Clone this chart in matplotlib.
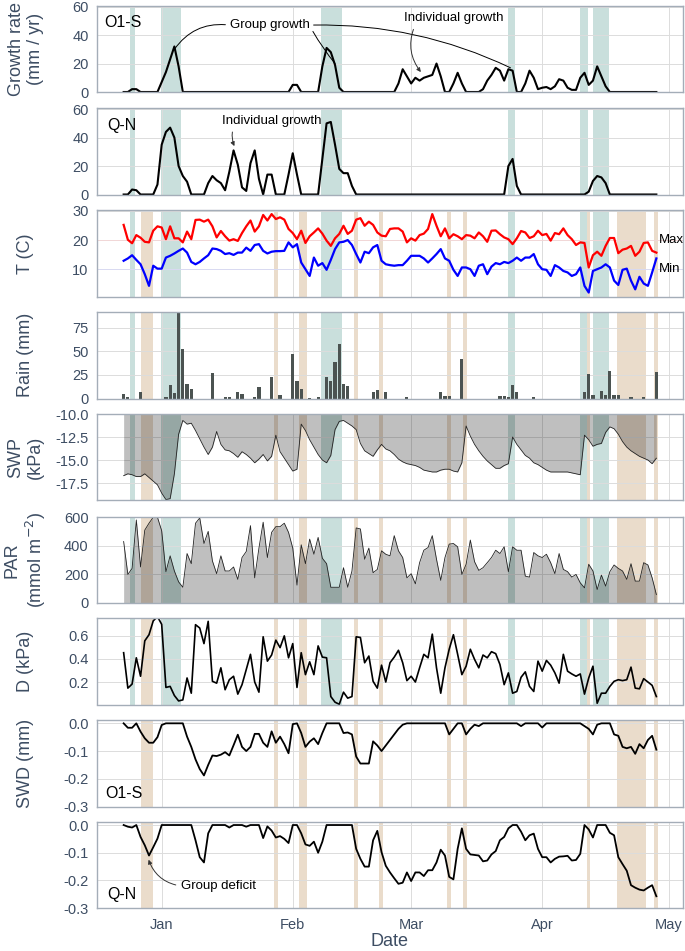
import matplotlib.pyplot as plt
import matplotlib.dates as mdates
import matplotlib.ticker as mticker
import pandas as pd

plt.rcParams['font.family'] = ['Liberation Sans', 'DejaVu Sans']
plt.rcParams['axes.unicode_minus'] = False

# daily records, 23 Dec 2016 - 28 Apr 2017
dates = pd.date_range('2016-12-23', '2017-04-28', freq='D')

growth_o1s = [0, 0, 2, 2, 0, 0, 0, 0, 0, 7,
              14, 23, 32, 18, 0, 0, 0, 0, 0, 0,
              0, 0, 0, 0, 0, 0, 0, 0, 0, 0,
              0, 0, 0, 0, 0, 0, 0, 0, 0, 0,
              5, 5, 0, 0, 0, 0, 0, 18, 31, 28,
              19, 3, 0, 0, 0, 0, 0, 0, 0, 0,
              0, 0, 0, 0, 0, 6, 16, 11, 6, 10,
              8, 10, 11, 12, 20, 11, 0, 0, 6, 13.5,
              6, 0, 0, 0, 0, 2, 8, 12, 17, 15,
              8, 16, 15, 0, 0, 6, 15, 10, 2, 3,
              3.5, 2, 4, 9, 8, 3, 1.5, 1.5, 10, 13.5,
              5, 8, 18, 11, 4, 0, 0, 0, 0, 0,
              0, 0, 0, 0, 0, 0, 0]

growth_qn = [0, 0, 3.5, 3, 0, 0, 0, 0, 7, 35,
             44, 47, 40, 20, 13, 9, 0, 0, 0, 0,
             8, 13, 10, 8, 3, 16, 31, 21, 5, 2.5,
             22, 31, 11, 0, 14, 14, 0, 0, 0, 14,
             29, 14, 0, 0, 0, 0, 0, 25, 50, 51,
             35, 18, 15, 15, 6, 0, 0, 0, 0, 0,
             0, 0, 0, 0, 0, 0, 0, 0, 0, 0,
             0, 0, 0, 0, 0, 0, 0, 0, 0, 0,
             0, 0, 0, 0, 0, 0, 0, 0, 0, 0,
             0, 20, 25, 6, 0, 0, 0, 0, 0, 0,
             0, 0, 0, 0, 0, 0, 0, 0, 0, 0,
             2, 9.5, 13, 12, 8, 0, 0, 0, 0, 0,
             0, 0, 0, 0, 0, 0, 0]

t_max = [25.2, 20.1, 18.9, 21.7, 20.8, 19.4, 19.2, 23.2, 24.7, 24.3,
         20.3, 24.7, 20.6, 20.6, 19.2, 22.9, 20.3, 26.9, 27.0, 26.3,
         27.0, 24.7, 20.9, 23.1, 21.3, 19.8, 20.3, 19.7, 22.4, 24.7,
         26.7, 22.9, 24.7, 28.6, 26.7, 28.9, 27.2, 27.8, 27.0, 23.8,
         22.4, 20.3, 23.2, 19.0, 21.3, 22.6, 24.0, 22.2, 19.8, 18.0,
         20.6, 22.1, 24.9, 22.1, 23.2, 27.0, 27.5, 24.9, 26.3, 25.2,
         22.6, 21.5, 21.3, 23.8, 24.0, 24.0, 22.9, 19.2, 20.6, 19.8,
         21.7, 22.2, 23.8, 28.9, 24.9, 21.3, 24.0, 20.6, 22.0, 21.3,
         20.3, 21.7, 21.5, 20.6, 22.6, 21.3, 19.4, 23.2, 23.3, 22.0,
         20.9, 20.3, 18.6, 20.6, 23.1, 22.6, 20.7, 21.3, 23.2, 21.7,
         22.1, 19.8, 22.4, 22.0, 24.0, 21.7, 20.3, 18.3, 19.2, 19.0,
         10.6, 14.8, 16.0, 14.6, 18.0, 20.7, 20.7, 15.5, 16.7, 17.1,
         18.0, 14.6, 16.0, 19.0, 19.2, 16.3, 15.7]

t_min = [12.9, 13.7, 14.8, 13.2, 11.7, 8.3, 4.3, 11.2, 10.2, 10.2,
         14.0, 14.6, 15.4, 16.3, 17.1, 15.7, 12.5, 11.7, 12.5, 13.7,
         14.8, 17.1, 16.9, 16.3, 15.2, 15.5, 14.9, 15.7, 15.7, 17.4,
         16.3, 18.3, 18.6, 16.3, 15.4, 16.0, 16.2, 16.2, 16.3, 19.2,
         17.5, 18.6, 12.3, 10.0, 7.7, 14.0, 11.2, 12.1, 9.8, 13.2,
         16.9, 19.2, 19.4, 20.0, 18.3, 15.2, 12.3, 16.0, 15.5, 17.5,
         18.3, 12.9, 11.7, 11.4, 11.2, 11.4, 11.4, 12.9, 14.6, 14.6,
         14.6, 13.7, 12.3, 13.7, 15.2, 16.9, 13.7, 12.9, 9.8, 7.7,
         10.6, 10.6, 10.0, 7.7, 11.2, 11.7, 8.3, 10.9, 12.1, 11.7,
         12.5, 12.1, 12.9, 14.0, 12.9, 14.0, 14.0, 15.2, 11.7, 10.0,
         9.8, 7.7, 11.4, 10.6, 9.4, 8.9, 7.7, 8.3, 10.6, 4.3,
         2.0, 9.4, 10.0, 10.6, 11.7, 10.6, 6.1, 4.6, 9.8, 10.2,
         6.1, 3.1, 7.4, 5.1, 4.3, 8.9, 13.7]

rain = [5, 2, 0, 0, 7, 0, 0, 0, 0, 0,
        2, 14, 6, 95, 53, 15, 9.6, 0, 0, 0,
        0, 27, 0, 0, 2, 2, 0, 7, 5, 0,
        0, 2, 12, 0, 0, 23, 0, 4, 0, 0,
        47, 18.5, 10, 0, 1, 0, 1.5, 0, 23, 18.5,
        39, 58, 15, 13, 0, 0, 0, 0, 0, 6.5,
        9, 0, 7, 0, 0, 0, 0, 2, 0, 0,
        0, 0, 0, 0, 0, 6.5, 2.5, 2.5, 0, 0,
        42, 0, 0, 0, 0, 0, 0, 0, 0, 3,
        3, 2, 14, 6.4, 0, 0, 0, 2, 0, 0,
        0, 0, 0, 0, 0, 0, 0, 0, 0, 7,
        25.7, 4, 0, 8, 3.5, 29, 4, 4, 0, 0,
        2, 0, 0, 2, 0, 0, 28.6]

swp = [-16.7, -16.5, -16.6, -16.8, -16.8, -16.5, -16.9, -17.3, -17.7, -18.6,
       -19.3, -19.2, -16.5, -12.2, -10.7, -11.1, -11.0, -11.8, -12.7, -13.6,
       -14.4, -13.6, -11.9, -13.3, -13.9, -14.0, -14.3, -14.7, -14.1, -14.4,
       -14.8, -15.3, -14.9, -14.4, -15.1, -14.6, -12.3, -14.1, -14.8, -15.5,
       -16.2, -16.0, -11.1, -11.8, -12.8, -13.6, -14.4, -15.0, -15.3, -14.5,
       -11.7, -10.8, -10.7, -11.0, -11.3, -11.7, -13.2, -14.0, -14.3, -14.6,
       -13.9, -13.3, -13.8, -14.0, -14.4, -14.9, -15.2, -15.4, -15.5, -15.6,
       -15.8, -16.1, -16.2, -16.3, -16.3, -16.1, -16.0, -16.0, -16.2, -16.3,
       -15.3, -11.3, -12.4, -13.3, -14.0, -14.6, -15.1, -15.5, -15.9, -15.9,
       -15.6, -15.4, -12.5, -13.3, -13.9, -14.5, -14.8, -15.3, -15.5, -15.8,
       -16.1, -16.3, -16.3, -16.3, -16.3, -16.3, -16.4, -16.5, -16.6, -12.3,
       -12.8, -13.5, -13.3, -13.2, -12.0, -11.4, -11.6, -12.2, -13.0, -13.6,
       -14.0, -14.3, -14.6, -14.8, -15.0, -15.4, -14.8]

par = [430, 200, 242, 581, 252, 510, 558, 600, 600, 505,
       219, 330, 224, 148, 110, 346, 275, 558, 595, 416,
       501, 294, 205, 330, 224, 224, 252, 165, 318, 360,
       541, 176, 384, 565, 318, 494, 534, 534, 558, 494,
       384, 125, 407, 275, 447, 341, 459, 313, 275, 110,
       110, 110, 247, 110, 224, 525, 518, 306, 384, 212,
       235, 365, 341, 330, 471, 365, 318, 176, 205, 134,
       282, 369, 388, 471, 306, 158, 318, 412, 416, 393,
       200, 271, 440, 289, 228, 247, 282, 318, 369, 346,
       393, 219, 393, 369, 369, 188, 181, 353, 330, 318,
       341, 282, 205, 346, 235, 219, 181, 200, 141, 106,
       271, 224, 94, 195, 118, 219, 266, 242, 224, 165,
       275, 153, 153, 282, 266, 176, 59]

vpd = [0.454, 0.147, 0.182, 0.41, 0.25, 0.557, 0.61, 0.73, 0.767, 0.70,
       0.153, 0.162, 0.083, 0.036, 0.045, 0.235, 0.103, 0.697, 0.668, 0.533,
       0.726, 0.206, 0.19, 0.323, 0.133, 0.22, 0.25, 0.095, 0.177, 0.308,
       0.44, 0.2, 0.112, 0.592, 0.381, 0.434, 0.563, 0.498, 0.6, 0.41,
       0.533, 0.153, 0.454, 0.264, 0.375, 0.264, 0.513, 0.416, 0.41, 0.074,
       0.025, 0.007, 0.112, 0.06, 0.074, 0.592, 0.586, 0.367, 0.425, 0.206,
       0.147, 0.346, 0.2, 0.367, 0.416, 0.475, 0.367, 0.212, 0.25, 0.2,
       0.323, 0.44, 0.41, 0.615, 0.323, 0.103, 0.323, 0.484, 0.61, 0.44,
       0.264, 0.337, 0.484, 0.396, 0.323, 0.434, 0.41, 0.463, 0.446, 0.352,
       0.177, 0.279, 0.103, 0.118, 0.241, 0.288, 0.162, 0.118, 0.381, 0.294,
       0.387, 0.346, 0.279, 0.19, 0.44, 0.294, 0.27, 0.25, 0.27, 0.095,
       0.235, 0.337, 0.016, 0.103, 0.103, 0.162, 0.206, 0.22, 0.212, 0.22,
       0.329, 0.147, 0.141, 0.229, 0.2, 0.171, 0.074]

swd_o1s = [0, -0.016, -0.016, 0, -0.03, -0.054, -0.07, -0.07, -0.05, -0.006,
           0, 0, 0, 0, 0, -0.048, -0.085, -0.13, -0.165, -0.188,
           -0.15, -0.116, -0.118, -0.113, -0.104, -0.116, -0.079, -0.041, -0.085, -0.1,
           -0.085, -0.038, -0.038, -0.07, -0.085, -0.029, -0.07, -0.048, -0.075, -0.108,
           -0.003, 0, -0.035, -0.085, -0.066, -0.054, -0.075, -0.035, 0, 0,
           0, 0, -0.035, -0.033, -0.04, -0.12, -0.145, -0.145, -0.145, -0.065,
           -0.08, -0.1, -0.08, -0.06, -0.04, -0.02, -0.005, 0, 0, 0,
           0, 0, 0, 0, 0, 0, 0, -0.04, -0.02, 0,
           0, -0.04, -0.02, -0.005, -0.01, 0, 0, 0, 0, 0,
           0, 0, 0, 0, -0.01, 0, 0, 0, 0, -0.015,
           0, 0, 0, 0, 0, 0, 0, 0, 0, -0.01,
           -0.02, -0.04, -0.005, 0, 0, 0, -0.04, -0.045, -0.085, -0.09,
           -0.085, -0.11, -0.075, -0.09, -0.06, -0.045, -0.095]

swd_qn = [0, -0.006, -0.009, 0, -0.043, -0.073, -0.11, -0.08, -0.049, 0,
          0, 0, 0, 0, 0, 0, 0, -0.055, -0.116, -0.135,
          -0.03, 0, 0, 0, 0, -0.009, 0, 0, 0, -0.006,
          0, 0, 0, -0.047, -0.005, -0.02, -0.045, -0.04, -0.05, -0.065,
          0, 0, -0.03, -0.07, -0.075, -0.06, -0.1, -0.06, 0, 0,
          0, 0, 0, 0, 0, -0.086, -0.122, -0.15, -0.15, -0.055,
          -0.021, -0.098, -0.147, -0.171, -0.192, -0.212, -0.208, -0.171, -0.202, -0.171,
          -0.171, -0.184, -0.163, -0.163, -0.135, -0.089, -0.11, -0.187, -0.196, -0.086,
          -0.012, -0.086, -0.106, -0.108, -0.11, -0.131, -0.128, -0.106, -0.094, -0.055,
          -0.043, -0.012, 0, 0, -0.024, -0.055, -0.037, -0.031, -0.086, -0.116,
          -0.116, -0.135, -0.122, -0.114, -0.113, -0.111, -0.128, -0.126, -0.104, 0,
          -0.016, -0.045, 0, 0, 0, -0.028, -0.037, -0.116, -0.141, -0.165,
          -0.217, -0.226, -0.233, -0.236, -0.226, -0.217, -0.257]

# shaded periods, in days after 22 Dec 2016
growth_spans = [(2.6, 3.6), (9.8, 14.6), (47.6, 52.6), (91.8, 93.6),
                (108.9, 110.8), (112.0, 115.8)]
deficit_spans = [(5.0, 8.0), (36.5, 37.6), (42.4, 44.4), (55.5, 56.4),
                 (61.4, 62.4), (77.4, 78.4), (81.3, 82.2), (110.7, 111.4),
                 (117.6, 124.5), (126.4, 127.4)]

base = mdates.date2num(pd.Timestamp('2016-12-22'))
teal = '#c9dfdc'
tan = '#eadccb'
slate = '#3d4d63'

W, H = 685, 951
fig = plt.figure(figsize=(W / 100, H / 100), dpi=100)

tops = [5.5, 108, 210, 312, 414, 516.5, 618, 720, 821.7]
hgt = 86.5
axs = []
for t in tops:
    rect = [97 / W, 1 - (t + hgt) / H, 586 / W, hgt / H]
    ax = fig.add_axes(rect, sharex=axs[0] if axs else None)
    ax.set_axisbelow(True)
    ax.grid(True, color='#dcdcdc', lw=0.7)
    for s in ax.spines.values():
        s.set_color('#a4adb8')
        s.set_linewidth(1.0)
    ax.tick_params(length=0, pad=6, labelsize=10.5, colors=slate)
    ax.tick_params(axis='x', labelbottom=False)
    axs.append(ax)


def shade(ax, spans, color):
    for a, b in spans:
        ax.axvspan(base + a, base + b, color=color, lw=0, zorder=0.2)


def ylab(ax, text):
    pos = ax.get_position()
    fig.text(26 / W, (pos.y0 + pos.y1) / 2, text, rotation=90, ha='center',
             va='center', fontsize=13, color=slate, multialignment='center')


# growth panels
for ax, g in zip(axs[:2], [growth_o1s, growth_qn]):
    shade(ax, growth_spans, teal)
    ax.plot(dates, g, color='black', lw=1.5)
    ax.set_ylim(0, 60.8)
    ax.set_yticks([0, 20, 40, 60])
axs[0].text(0.012, 0.8, 'O1-S', transform=axs[0].transAxes, fontsize=11.5, va='center')
axs[1].text(0.018, 0.8, 'Q-N', transform=axs[1].transAxes, fontsize=11.5, va='center')
ylab(axs[0], 'Growth rate\n(mm / yr)')

ann = dict(fontsize=9.5, ha='center', va='center')
line = dict(arrowstyle='-', lw=0.7, shrinkA=1, shrinkB=0)
head = dict(arrowstyle='-|>', lw=0.7, color='#333333', mutation_scale=6, shrinkA=2, shrinkB=0)

# one label, three leader lines (the two extra copies are invisible)
gg = (base + 35.5, 47)
axs[0].annotate('Group growth', xy=(base + 13, 30), xytext=gg,
                arrowprops=dict(relpos=(0, 0.5), connectionstyle='arc3,rad=0.3', **line), **ann)
axs[0].annotate('Group growth', xy=(base + 51, 20), xytext=gg, color='none',
                arrowprops=dict(relpos=(1, 0.5), connectionstyle='arc3,rad=0.05', **line), **ann)
axs[0].annotate('Group growth', xy=(base + 92.5, 17), xytext=gg, color='none',
                arrowprops=dict(relpos=(1, 0.5), connectionstyle='arc3,rad=-0.12', **line), **ann)
axs[0].annotate('Individual growth', xy=(base + 71.3, 14), xytext=(base + 79, 52),
                arrowprops=dict(relpos=(0.12, 0), connectionstyle='arc3,rad=0.3', **head), **ann)
axs[1].annotate('Individual growth', xy=(base + 27.2, 34), xytext=(base + 36, 52),
                arrowprops=dict(relpos=(0.12, 0), connectionstyle='arc3,rad=0.2', **head), **ann)

# temperature
ax = axs[2]
shade(ax, growth_spans, teal)
shade(ax, deficit_spans, tan)
ax.plot(dates, t_max, color='#ff0000', lw=1.6)
ax.plot(dates, t_min, color='#0000ff', lw=1.6)
ax.set_ylim(0.65, 30.3)
ax.set_yticks([10, 20, 30])
for v, gl in zip(ax.get_yticks(), ax.get_ygridlines()):
    if v == 20:
        gl.set_color('#f1d6d6')
    elif v == 10:
        gl.set_color('#d8d9f1')
ax.text(base + 127.5, 20, 'Max', fontsize=9.5, va='center', ha='left')
ax.text(base + 127.5, 10, 'Min', fontsize=9.5, va='center', ha='left')
ylab(ax, 'T (C)')

# rain
ax = axs[3]
shade(ax, growth_spans, teal)
shade(ax, deficit_spans, tan)
ax.bar(dates, rain, width=0.75, color='#4b5351', zorder=2)
ax.set_ylim(0, 92)
ax.set_yticks([0, 25, 50, 75])
ylab(ax, 'Rain (mm)')

# soil water potential
ax = axs[4]
shade(ax, growth_spans, teal)
shade(ax, deficit_spans, tan)
ax.fill_between(dates, swp, -10, color='black', alpha=0.25, lw=0, zorder=1)
ax.plot(dates, swp, color='#222222', lw=0.6)
ax.set_ylim(-19.4, -10)
ax.set_yticks([-17.5, -15, -12.5, -10])
ax.yaxis.set_major_formatter(mticker.FormatStrFormatter('%.1f'))
ylab(ax, 'SWP\n(kPa)')

# PAR
ax = axs[5]
shade(ax, growth_spans, teal)
shade(ax, deficit_spans, tan)
ax.fill_between(dates, par, 0, color='black', alpha=0.25, lw=0, zorder=1)
ax.plot(dates, par, color='#222222', lw=0.6)
ax.set_ylim(0, 605)
ax.set_yticks([0, 200, 400, 600])
ylab(ax, 'PAR\n(mmol m$^{-2}$)')

# vapour pressure deficit
ax = axs[6]
shade(ax, growth_spans, teal)
shade(ax, deficit_spans, tan)
ax.plot(dates, vpd, color='black', lw=1.2)
ax.set_ylim(0.005, 0.755)
ax.set_yticks([0.2, 0.4, 0.6])
ylab(ax, 'D (kPa)')

# stem water deficit
for ax, s in zip(axs[7:], [swd_o1s, swd_qn]):
    shade(ax, deficit_spans, tan)
    ax.plot(dates, s, color='black', lw=1.3)
    ax.set_ylim(-0.3, 0.012)
    ax.set_yticks([-0.3, -0.2, -0.1, 0.0])
    ax.yaxis.set_major_formatter(mticker.FormatStrFormatter('%.1f'))
axs[7].text(0.014, 0.15, 'O1-S', transform=axs[7].transAxes, fontsize=11.5, va='center')
axs[8].text(0.018, 0.16, 'Q-N', transform=axs[8].transAxes, fontsize=11.5, va='center')
ylab(axs[7], 'SWD (mm)')
axs[8].annotate('Group deficit', xy=(base + 6.9, -0.125), xytext=(base + 23.5, -0.22),
                arrowprops=dict(relpos=(0, 0.5), connectionstyle='arc3,rad=-0.3', **head), **ann)

ax = axs[8]
ax.set_xlim(base + 1 - 6.3, base + 127 + 6.3)
ax.xaxis.set_major_locator(mdates.MonthLocator())
ax.xaxis.set_major_formatter(mdates.DateFormatter('%b'))
ax.tick_params(axis='x', labelbottom=True, pad=7)
fig.text(390 / W, 1 - 942 / H, 'Date', ha='center', va='center', fontsize=13, color=slate)

fig.savefig('out.png', dpi=100)
